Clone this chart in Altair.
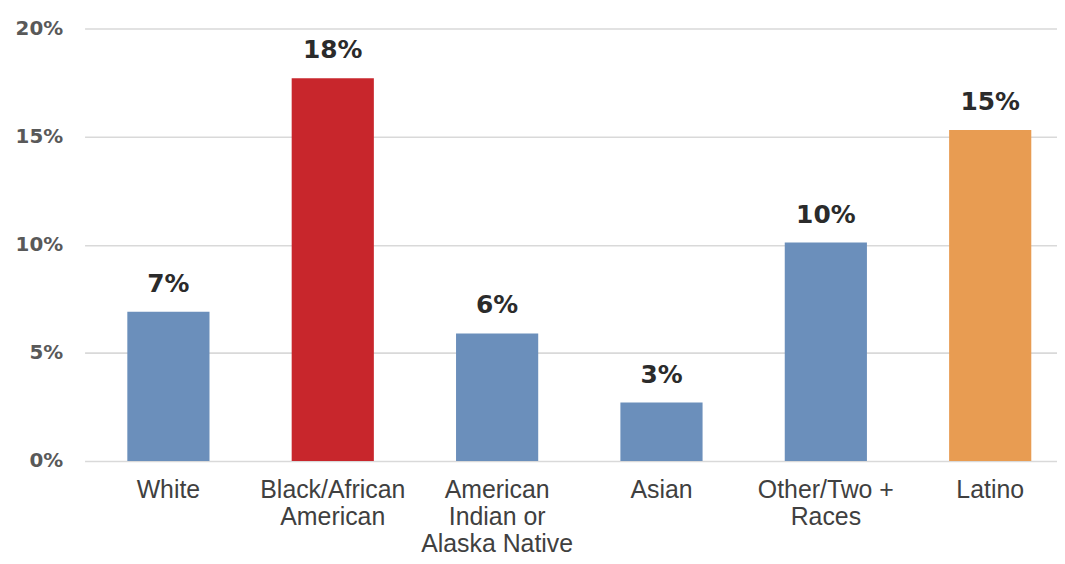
import altair as alt
import pandas as pd

categories = ["White", "Black/African\nAmerican", "American\nIndian or\nAlaska Native",
              "Asian", "Other/Two +\nRaces", "Latino"]
values = [6.9, 17.7, 5.9, 2.7, 10.1, 15.3]
colors = ["#6b8fbb", "#c8262c", "#6b8fbb", "#6b8fbb", "#6b8fbb", "#e89c52"]
y_ticks = [0, 5, 10, 15, 20]

df = pd.DataFrame({"cat": categories, "val": values, "color": colors})

x_enc = alt.X(
    "cat:N", sort=None, title=None,
    scale=alt.Scale(paddingInner=0.5, paddingOuter=0.2083, align=0.6245),
    axis=alt.Axis(
        labelExpr="split(datum.label, '\\n')",
        labelAngle=0, labelFont="Liberation Sans", labelFontSize=25,
        labelLineHeight=27, labelColor="#404040", labelPadding=17,
        ticks=False, domain=False, grid=False, labelBaseline="top",
    ),
)
y_enc = alt.Y(
    "val:Q", title=None,
    scale=alt.Scale(domain=[0, 20], nice=False),
    axis=alt.Axis(
        values=y_ticks, labelExpr="datum.value + '%'",
        labelFont="DejaVu Sans", labelFontWeight="bold", labelFontSize=20,
        labelColor="#595959", labelPadding=22, ticks=False, domain=False,
        gridColor="#d9d9d9", gridWidth=1.6,
    ),
)

bars = alt.Chart(df).mark_bar().encode(
    x=x_enc, y=y_enc, color=alt.Color("color:N", scale=None)
)

labels = alt.Chart(df).transform_calculate(
    lbl="format(datum.val, '.0f') + '%'"
).mark_text(
    baseline="alphabetic", dy=-20, font="DejaVu Sans", fontWeight="bold",
    fontSize=25, color="#2b2b2b"
).encode(x=x_enc, y=y_enc, text="lbl:N")

chart = (bars + labels).properties(
    width=978, height=435,
    background="white",
    autosize=alt.AutoSizeParams(type="none"),
    padding={"left": 77, "top": 19, "right": 0, "bottom": 94},
).configure_view(stroke=None, strokeWidth=0)

chart.save("out.html", embed_options={"renderer": "svg", "actions": False})
